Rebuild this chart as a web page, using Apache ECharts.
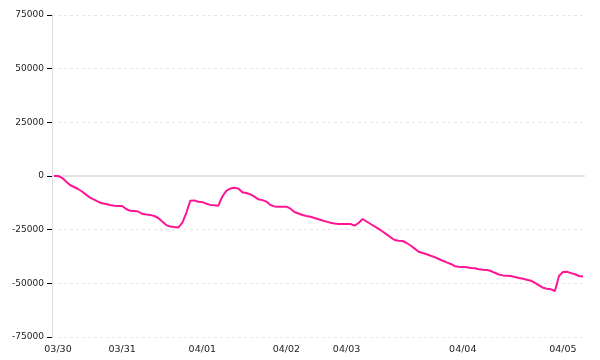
<!DOCTYPE html>
<html>
<head>
<meta charset="utf-8">
<script src="https://cdn.jsdelivr.net/npm/echarts@6/dist/echarts.min.js"></script>
<style>
  html, body { margin: 0; padding: 0; background: #fff; }
  #chart { width: 600px; height: 360px; }
</style>
</head>
<body>
<div id="chart"></div>
<script>
// Day labels and the sample index where each day's label sits
var dayLabels = ['03/30', '03/31', '04/01', '04/02', '04/03', '04/04', '04/05'];
var dayLabelIndex = [1, 17, 37, 58, 73, 102, 127];

// Series values (one per sample)
var values = [
  0, 0, -840, -2520, -4190, -5130, -6060, -7220, -8670, -10110,
  -11040, -11980, -12670, -13090, -13510, -13840, -13930, -13980, -15370, -16210,
  -16260, -16540, -17610, -17890, -18120, -18630, -19570, -21240, -22870, -23520,
  -23800, -24030, -21850, -17240, -11550, -11370, -12020, -12160, -12900, -13460,
  -13650, -13840, -9550, -6940, -5830, -5450, -5870, -7590, -7920, -8570,
  -9640, -10860, -11230, -11930, -13510, -14160, -14300, -14300, -14300, -15230,
  -16770, -17470, -18170, -18590, -18960, -19570, -20170, -20730, -21240, -21750,
  -22080, -22360, -22360, -22360, -22360, -23100, -21890, -20030, -21200, -22360,
  -23480, -24600, -25850, -27200, -28560, -29810, -30180, -30280, -31210, -32380,
  -33820, -35260, -35870, -36470, -37120, -37830, -38660, -39500, -40250, -40990,
  -42020, -42300, -42340, -42480, -42810, -42950, -43410, -43690, -43740, -44250,
  -45090, -45880, -46300, -46440, -46580, -47050, -47470, -47890, -48310, -48770,
  -49840, -50920, -52030, -52500, -52780, -53570, -46580, -44720, -44580, -45230,
  -45790, -46580, -46860
];

// Y-axis range
var yMin = -75000, yMax = 75000, yStep = 25000;

// Category names: the day each sample belongs to
var categories = values.map(function (v, i) {
  var d = 0;
  for (var k = 0; k < dayLabelIndex.length; k++) {
    if (i >= dayLabelIndex[k]) d = k;
  }
  return dayLabels[d] + ' #' + i;
});

var chart = echarts.init(document.getElementById('chart'), null, { renderer: 'canvas' });

var font = '"DejaVu Sans", Verdana, sans-serif';

chart.setOption({
  animation: false,
  backgroundColor: '#ffffff',
  grid: { left: 52, right: 15, top: 15, bottom: 23, containLabel: false },
  xAxis: {
    type: 'category',
    data: categories,
    boundaryGap: true,
    axisLine: { show: false },
    axisTick: { show: false },
    splitLine: { show: false },
    axisLabel: {
      show: true,
      margin: 8,
      color: '#222',
      fontFamily: font,
      fontSize: 9.5,
      hideOverlap: false,
      interval: function (index) { return dayLabelIndex.indexOf(index) >= 0; },
      formatter: function (value, index) {
        var k = dayLabelIndex.indexOf(index);
        return k >= 0 ? dayLabels[k] : '';
      }
    }
  },
  yAxis: {
    type: 'value',
    min: yMin,
    max: yMax,
    interval: yStep,
    axisLine: { show: true, lineStyle: { color: '#dddddd', width: 1 } },
    axisTick: { show: true, length: 5, lineStyle: { color: '#000000', width: 1 } },
    axisLabel: {
      margin: 8,
      color: '#222',
      fontFamily: font,
      fontSize: 9,
      formatter: function (v) { return String(v); }
    },
    splitLine: {
      show: true,
      lineStyle: { color: '#e6e6e6', type: [3, 3], width: 1 }
    }
  },
  series: [{
    type: 'line',
    data: values,
    showSymbol: false,
    symbol: 'none',
    smooth: false,
    lineStyle: { color: '#ff1493', width: 2 },
    itemStyle: { color: '#ff1493' },
    z: 3,
    markLine: {
      silent: true,
      symbol: 'none',
      label: { show: false },
      lineStyle: { color: '#dddddd', type: 'solid', width: 1.5 },
      data: [{ yAxis: 0 }],
      z: 1
    }
  }]
});
</script>
</body>
</html>
